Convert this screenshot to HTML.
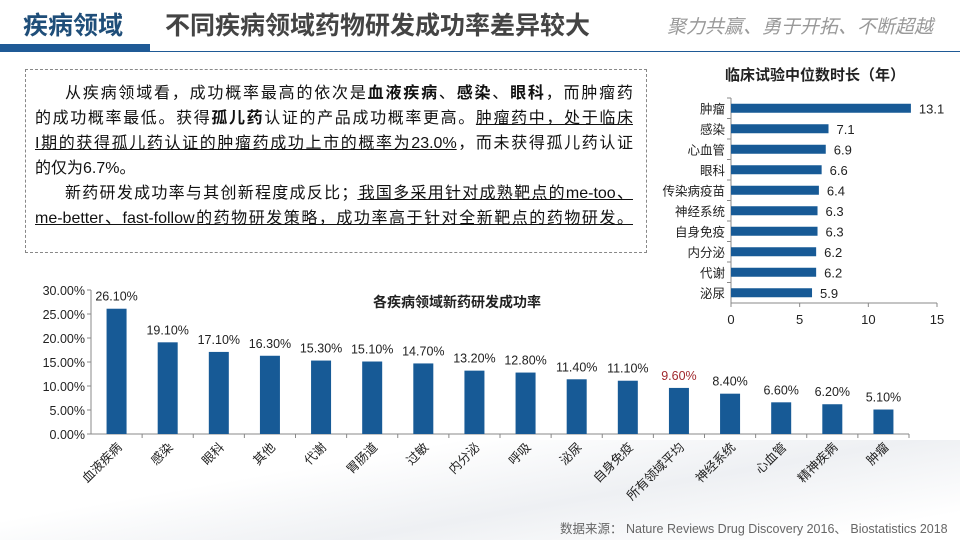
<!DOCTYPE html>
<html><head><meta charset="utf-8">
<style>
body{margin:0;width:960px;height:540px;overflow:hidden;background:#fff;font-family:"Liberation Sans","Noto Sans CJK SC",sans-serif;position:relative}
.abs{position:absolute}
#txt{left:25px;top:69px;width:622px;height:184px;border:1px dashed #888;box-sizing:border-box}
.ln{position:absolute;left:9px;width:598px;font-size:16px;line-height:25px;color:#111;white-space:nowrap;text-align:justify;text-align-last:justify}
.ln.i{left:39px;width:568px}
.ln.s{text-align-last:left}
u{text-decoration:underline}
</style></head><body>
<div class="abs" style="left:0;top:440px;width:960px;height:100px;background:linear-gradient(170deg,#fff 30%,#eef0f3 60%,#fff 90%)"></div>
<div class="abs" style="left:0;top:44px;width:150px;height:8px;background:#1f5a96"></div>
<div class="abs" style="left:150px;top:51px;width:810px;height:1px;background:#1f5a96"></div>
<div class="abs" style="left:23px;top:6px;font-size:25px;font-weight:bold;color:#1f4e79">疾病领域</div>
<div class="abs" style="left:165px;top:6px;font-size:25px;font-weight:bold;color:#444">不同疾病领域药物研发成功率差异较大</div>
<div class="abs" style="left:667px;top:12px;font-size:19px;font-style:italic;color:#999">聚力共赢、勇于开拓、不断超越</div>
<div id="txt" class="abs">
<div class="ln i" style="top:11px">从疾病领域看，成功概率最高的依次是<b>血液疾病</b>、<b>感染</b>、<b>眼科</b>，而肿瘤药</div>
<div class="ln" style="top:36px">的成功概率最低。获得<b>孤儿药</b>认证的产品成功概率更高。<u>肿瘤药中，处于临床</u></div>
<div class="ln" style="top:61px"><u>I期的获得孤儿药认证的肿瘤药成功上市的概率为23.0%</u>，而未获得孤儿药认证</div>
<div class="ln s" style="top:86px">的仅为6.7%。</div>
<div class="ln i" style="top:111px">新药研发成功率与其创新程度成反比；<u>我国多采用针对成熟靶点的me-too、</u></div>
<div class="ln" style="top:136px"><u>me-better、fast-follow的药物研发策略，成功率高于针对全新靶点的药物研发。</u></div>
</div>
<div class="abs" style="left:560px;top:518px;font-size:12.5px;color:#666">数据来源：&nbsp;Nature Reviews Drug Discovery 2016、&nbsp;Biostatistics 2018</div>
<svg class="abs" style="left:0;top:0" width="960" height="540" id="svg"></svg>
<script>
const rCats=["肿瘤","感染","心血管","眼科","传染病疫苗","神经系统","自身免疫","内分泌","代谢","泌尿"];
const rVals=[13.1,7.1,6.9,6.6,6.4,6.3,6.3,6.2,6.2,5.9];
const rTicks=[0,5,10,15];
const bCats=["血液疾病","感染","眼科","其他","代谢","胃肠道","过敏","内分泌","呼吸","泌尿","自身免疫","所有领域平均","神经系统","心血管","精神疾病","肿瘤"];
const bVals=[26.1,19.1,17.1,16.3,15.3,15.1,14.7,13.2,12.8,11.4,11.1,9.6,8.4,6.6,6.2,5.1];
const bTicks=[0,5,10,15,20,25,30];
const svg=document.getElementById('svg');
const NS="http://www.w3.org/2000/svg";
function mk(t,a,txt){const e=document.createElementNS(NS,t);for(const k in a)e.setAttribute(k,a[k]);if(txt!==undefined)e.textContent=txt;svg.appendChild(e);return e;}
const F='"Liberation Sans","Noto Sans CJK SC",sans-serif';
const rx0=731,rx1=937,ry0=98,ry1=303;
const rX=v=>rx0+v/15*(rx1-rx0);
const rStep=(ry1-ry0)/rCats.length;
let t=mk('text',{x:815,y:80,'text-anchor':'middle','font-size':15,'font-weight':'bold','font-family':F,fill:'#222'},'临床试验中位数时长（年）');

let l=mk('line',{x1:rx0,y1:ry0,x2:rx0,y2:ry1,stroke:'#888'});
l=mk('line',{x1:rx0,y1:ry1,x2:rx1,y2:ry1,stroke:'#888'});
rTicks.forEach(v=>{mk('line',{x1:rX(v),y1:ry1,x2:rX(v),y2:ry1+4,stroke:'#888'});
 const e=mk('text',{x:rX(v),y:ry1+21,'text-anchor':'middle','font-size':13,'font-family':F,fill:'#222'},v);
 });
rCats.forEach((c,i)=>{const cy=ry0+rStep*(i+0.5);
 mk('line',{x1:rx0-4,y1:ry0+rStep*i,x2:rx0,y2:ry0+rStep*i,stroke:'#888'});
 const r=mk('rect',{x:rx0,y:cy-4.5,width:rX(rVals[i])-rx0,height:9,fill:'#175a96'});
 
 const a=mk('text',{x:rX(rVals[i])+8,y:cy+5,'font-size':13,'font-family':F,fill:'#222'},rVals[i]);
 
 const b=mk('text',{x:rx0-6,y:cy+5,'text-anchor':'end','font-size':12.5,'font-family':F,fill:'#222'},c);
 });
const bx0=91,bx1=909,by0=290,by1=434;
const bY=v=>by1-v/30*(by1-by0);
const bStep=(bx1-bx0)/bCats.length;
t=mk('text',{x:457,y:307,'text-anchor':'middle','font-size':14,'font-weight':'bold','font-family':F,fill:'#222'},'各疾病领域新药研发成功率');

l=mk('line',{x1:bx0,y1:by0,x2:bx0,y2:by1,stroke:'#888'});
l=mk('line',{x1:bx0,y1:by1,x2:bx1,y2:by1,stroke:'#888'});
bTicks.forEach(v=>{mk('line',{x1:bx0-4,y1:bY(v),x2:bx0,y2:bY(v),stroke:'#888'});
 const e=mk('text',{x:bx0-6,y:bY(v)+5,'text-anchor':'end','font-size':12.5,'font-family':F,fill:'#222'},v.toFixed(2)+'%');
 });
bCats.forEach((c,i)=>{const cx=bx0+bStep*(i+0.5);
 mk('line',{x1:bx0+bStep*(i+1),y1:by1,x2:bx0+bStep*(i+1),y2:by1+4,stroke:'#888'});
 const r=mk('rect',{x:cx-10,y:bY(bVals[i]),width:20,height:by1-bY(bVals[i]),fill:'#175a96'});
 
 const a=mk('text',{x:cx,y:bY(bVals[i])-8,'text-anchor':'middle','font-size':12.5,'font-family':F,fill:c==='所有领域平均'?'#a0282d':'#222'},bVals[i].toFixed(2)+'%');
 
 const b=mk('text',{x:cx+6,y:by1+14,'text-anchor':'end','font-size':12.5,'font-family':F,fill:'#222',transform:`rotate(-45 ${cx+6} ${by1+14})`},c);
 });
</script>
</body></html>
